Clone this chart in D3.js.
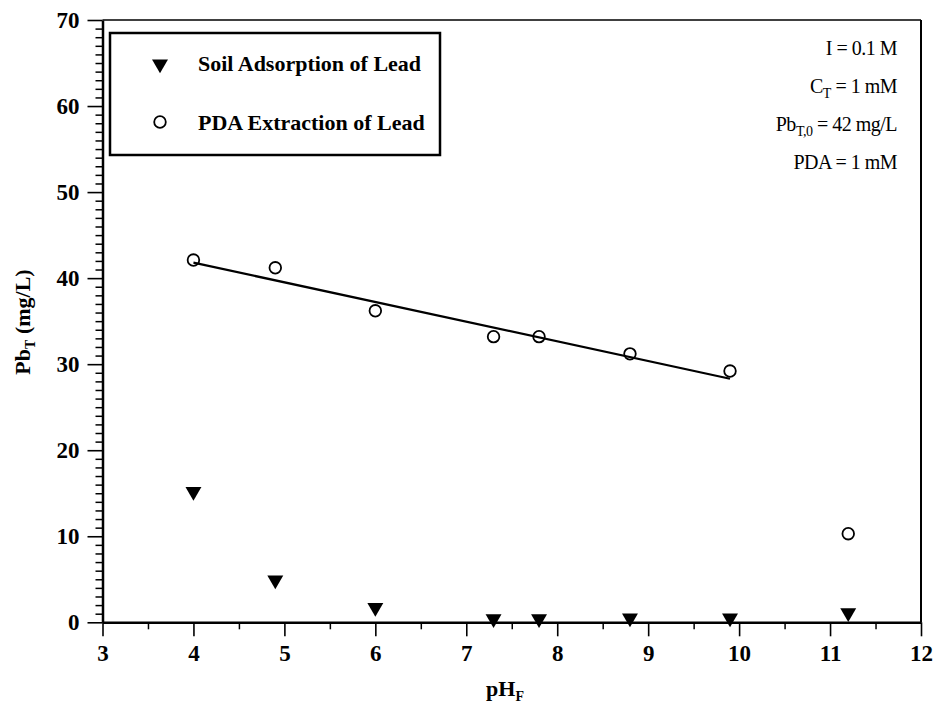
<!DOCTYPE html>
<html>
<head>
<meta charset="utf-8">
<script src="https://cdn.jsdelivr.net/npm/d3@7"></script>
<style>
  body { margin: 0; background: #fff; }
  svg text { font-family: "Liberation Serif", "Times New Roman", serif; fill: #000; }
</style>
</head>
<body>
<div id="chart"></div>
<script>
// soil adsorption (filled triangles)
const soilPH = [4.0, 4.9, 6.0, 7.3, 7.8, 8.8, 9.9, 11.2];
const soilPb = [15.2, 4.9, 1.7, 0.4, 0.4, 0.5, 0.5, 1.1];
// PDA extraction (open circles)
const pdaPH = [4.0, 4.9, 6.0, 7.3, 7.8, 8.8, 9.9, 11.2];
const pdaPb = [42.1, 41.2, 36.2, 33.2, 33.2, 31.2, 29.2, 10.3];
// fitted line
const fitPH = [4.0, 9.9];
const fitPb = [41.8, 28.3];
const xTicks = [3, 4, 5, 6, 7, 8, 9, 10, 11, 12];
const yTicks = [0, 10, 20, 30, 40, 50, 60, 70];
const legendLabels = ['Soil Adsorption of Lead', 'PDA Extraction of Lead'];
const notes = ['I = 0.1 M', 'C|T| = 1 mM', 'Pb|T,0| = 42 mg/L', 'PDA = 1 mM'];

const w = 934, h = 708;
const svg = d3.select('#chart').append('svg')
  .attr('width', w)
  .attr('height', h);

const x = d3.scaleLinear().domain([3, 12]).range([102.5, 921]);
const y = d3.scaleLinear().domain([0, 70]).range([622.3, 20]);

// frame top & right
svg.append('line')
  .attr('x1', x(3)).attr('x2', x(12)).attr('y1', y(70)).attr('y2', y(70))
  .attr('stroke', '#000').attr('stroke-width', 1.5);
svg.append('line')
  .attr('x1', x(12)).attr('x2', x(12)).attr('y1', y(0)).attr('y2', y(70))
  .attr('stroke', '#000').attr('stroke-width', 2);

// x axis: minor then major
svg.append('g')
  .attr('transform', 'translate(0,' + y(0) + ')')
  .call(d3.axisBottom(x).tickValues(d3.range(3.5, 12, 1)).tickSize(7).tickSizeOuter(0).tickFormat(''))
  .call(g => g.select('.domain').remove())
  .selectAll('line').attr('stroke-width', 1.5);
const xAxis = svg.append('g')
  .attr('transform', 'translate(0,' + y(0) + ')')
  .call(d3.axisBottom(x).tickValues(xTicks).tickSize(14).tickSizeOuter(0).tickFormat(d3.format('d')));
xAxis.select('.domain').attr('stroke-width', 2.5);
xAxis.selectAll('line').attr('stroke-width', 1.6);
xAxis.selectAll('text')
  .attr('font-size', 23).attr('font-weight', 'bold')
  .attr('y', 22);

// y axis: minor then major
svg.append('g')
  .attr('transform', 'translate(' + x(3) + ',0)')
  .call(d3.axisLeft(y).tickValues(d3.range(1, 70, 1).filter(v => v % 10)).tickSize(7).tickSizeOuter(0).tickFormat(''))
  .call(g => g.select('.domain').remove())
  .selectAll('line').attr('stroke-width', 1.5);
const yAxis = svg.append('g')
  .attr('transform', 'translate(' + x(3) + ',0)')
  .call(d3.axisLeft(y).tickValues(yTicks).tickSize(15).tickSizeOuter(0).tickFormat(d3.format('d')));
yAxis.select('.domain').attr('stroke-width', 2.5);
yAxis.selectAll('line').attr('stroke-width', 1.6);
yAxis.selectAll('text')
  .attr('font-size', 23).attr('font-weight', 'bold')
  .attr('x', -23);

// fit line
const line = d3.line().x(d => x(d[0])).y(d => y(d[1]));
svg.append('path')
  .datum(fitPH.map((p, i) => [p, fitPb[i]]))
  .attr('d', line)
  .attr('fill', 'none')
  .attr('stroke', '#000')
  .attr('stroke-width', 2.2);

const tri = d3.symbol().type(d3.symbolTriangle).size(110);

svg.append('g').selectAll('path')
  .data(soilPH.map((p, i) => [p, soilPb[i]]))
  .enter().append('path')
  .attr('d', tri)
  .attr('transform', d => 'translate(' + x(d[0]) + ',' + y(d[1]) + ') rotate(180)')
  .attr('fill', '#000');

svg.append('g').selectAll('circle')
  .data(pdaPH.map((p, i) => [p, pdaPb[i]]))
  .enter().append('circle')
  .attr('cx', d => x(d[0]))
  .attr('cy', d => y(d[1]))
  .attr('r', 5.8)
  .attr('fill', 'none')
  .attr('stroke', '#000')
  .attr('stroke-width', 1.8);

// legend
const legend = svg.append('g').attr('id', 'legend');
legend.append('rect')
  .attr('x', 110).attr('y', 33).attr('width', 330).attr('height', 122)
  .attr('fill', '#fff').attr('stroke', '#000').attr('stroke-width', 2.5);
legend.append('path')
  .attr('d', tri)
  .attr('transform', 'translate(160,64) rotate(180)')
  .attr('fill', '#000');
legend.append('circle')
  .attr('cx', 160).attr('cy', 122).attr('r', 5.8)
  .attr('fill', 'none').attr('stroke', '#000').attr('stroke-width', 1.8);
legend.selectAll('text')
  .data(legendLabels)
  .enter().append('text')
  .attr('x', 198)
  .attr('y', (d, i) => 71 + i * 59)
  .attr('font-size', 22)
  .attr('font-weight', 'bold')
  .text(d => d);

// annotations (| marks subscript)
const noteG = svg.append('g');
notes.forEach((n, i) => {
  const parts = n.split('|');
  const t = noteG.append('text')
    .attr('x', 897)
    .attr('y', 55 + i * 38)
    .attr('text-anchor', 'end')
    .attr('font-size', 20)
    .attr('letter-spacing', -0.5);
  parts.forEach((p, j) => {
    const s = t.append('tspan').text(p);
    if (j === 1) s.attr('font-size', 14).attr('dy', 5);
    if (j === 2) s.attr('font-size', 20).attr('dy', -5);
  });
});

// y axis label
const yl = svg.append('text')
  .attr('transform', 'translate(30,322) rotate(-90)')
  .attr('text-anchor', 'middle')
  .attr('font-size', 22)
  .attr('font-weight', 'bold');
yl.append('tspan').text('Pb');
yl.append('tspan').text('T').attr('font-size', 14).attr('dy', 5);
yl.append('tspan').text(' (mg/L)').attr('dy', -5);

// x axis label
const xl = svg.append('text')
  .attr('x', 505)
  .attr('y', 696)
  .attr('text-anchor', 'middle')
  .attr('font-size', 22)
  .attr('font-weight', 'bold');
xl.append('tspan').text('pH');
xl.append('tspan').text('F').attr('font-size', 14).attr('dy', 5);
</script>
</body>
</html>
